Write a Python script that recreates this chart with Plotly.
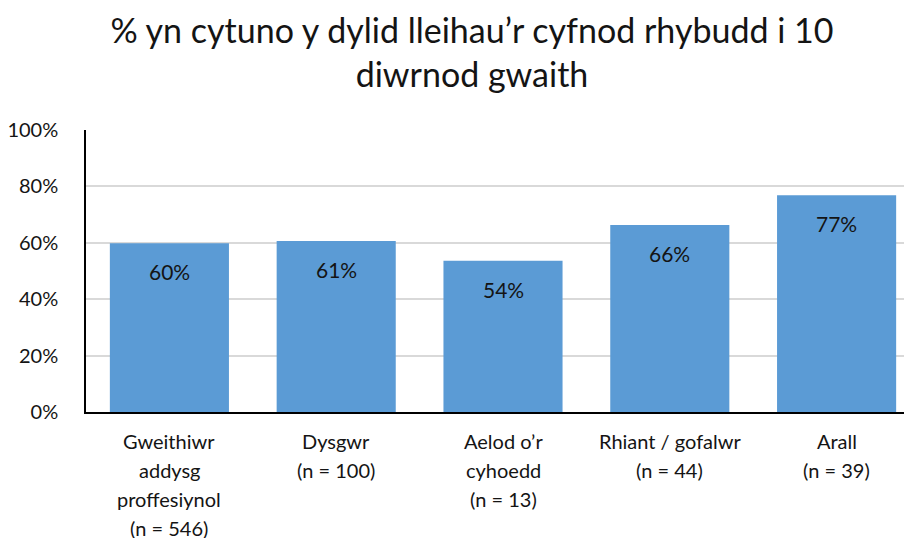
import plotly.graph_objects as go

categories = ["Gweithiwr<br>addysg<br>proffesiynol<br>(n = 546)",
              "Dysgwr<br>(n = 100)",
              "Aelod o’r<br>cyhoedd<br>(n = 13)",
              "Rhiant / gofalwr<br>(n = 44)",
              "Arall<br>(n = 39)"]
values = [59.8, 60.6, 53.6, 66.3, 76.9]
y_ticks = [0, 20, 40, 60, 80, 100]
y_tick_labels = ["0%", "20%", "40%", "60%", "80%", "100%"]
title_text = "% yn cytuno y dylid lleihau’r cyfnod rhybudd i 10<br>diwrnod gwaith"

FONT = "Lato, 'Open Sans', sans-serif"
BLUE = "#5B9BD5"
TXT = "#141414"

keys = list(range(len(categories)))

fig = go.Figure()
fig.add_trace(go.Bar(x=keys, y=values, marker=dict(color=BLUE, line=dict(width=0)),
                     width=0.714, hoverinfo="skip"))

annotations = []
for k, v in zip(keys, values):
    annotations.append(dict(x=k, y=v, xref="x", yref="y", text=f"{v:.0f}%",
                            showarrow=False, yanchor="top", yshift=-14,
                            font=dict(size=21, color=TXT, family=FONT)))
for k, lab in zip(keys, categories):
    for i, line in enumerate(lab.split("<br>")):
        annotations.append(dict(x=k, y=0, xref="x", yref="paper", text=line,
                                showarrow=False, yanchor="middle",
                                yshift=-29 - i * 29,
                                font=dict(size=20, color=TXT, family=FONT)))

fig.update_layout(
    width=912, height=538,
    margin=dict(l=78, r=0, t=122, b=134),
    paper_bgcolor="white", plot_bgcolor="white",
    showlegend=False,
    title=dict(text=title_text, x=464 / 912, xref="container", xanchor="center",
               y=1 - 35 / 538, yref="container", yanchor="middle",
               font=dict(size=34, color=TXT, family=FONT)),
    font=dict(family=FONT, color=TXT),
    annotations=annotations,
)
fig.update_xaxes(range=[-0.5, 4.5], tickvals=keys, showticklabels=False,
                 showline=True, linecolor="black", linewidth=1.5,
                 showgrid=False, zeroline=False, fixedrange=True, automargin=False)
fig.update_yaxes(range=[0, 100], tickvals=y_ticks, ticktext=y_tick_labels,
                 showline=True, linecolor="black", linewidth=1.5,
                 showgrid=True, gridcolor="#D9D9D9", gridwidth=1.5,
                 zeroline=False, ticks="", ticklabelstandoff=22, automargin=False,
                 tickfont=dict(size=20, color=TXT, family=FONT), fixedrange=True)

fig.write_html("out.html")
